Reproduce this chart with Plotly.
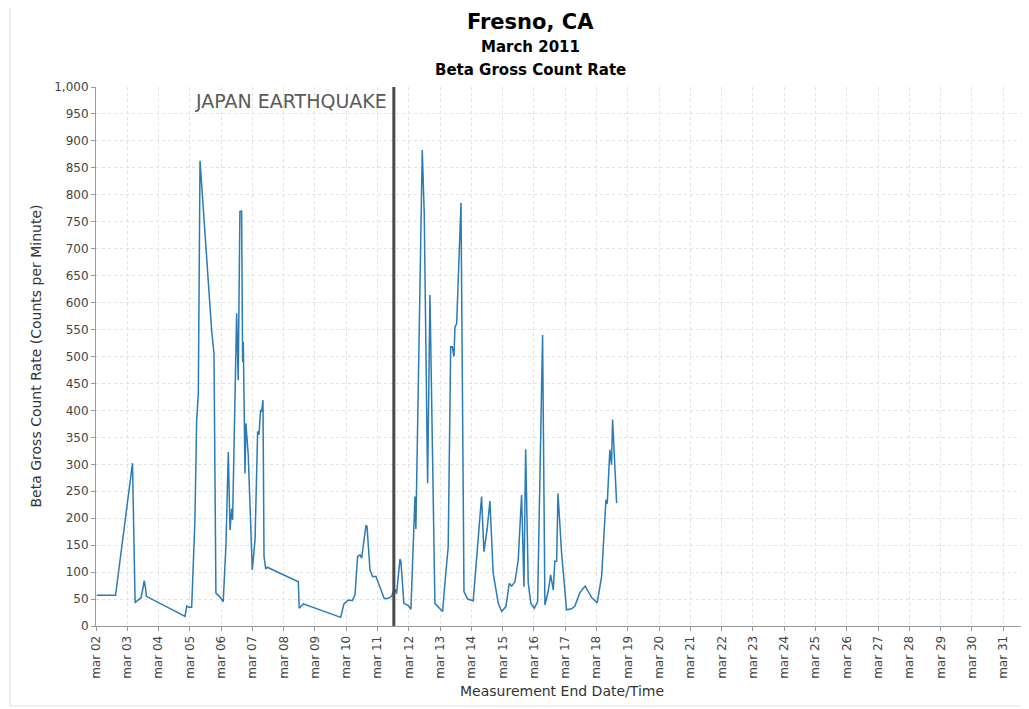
import plotly.graph_objects as go

# ---- data ----
times = [
    "2011-03-02 00:30", "2011-03-02 15:00", "2011-03-03 04:00", "2011-03-03 06:00",
    "2011-03-03 08:12", "2011-03-03 10:30", "2011-03-03 12:00", "2011-03-03 13:00",
    "2011-03-03 14:00", "2011-03-03 14:42", "2011-03-04 20:18", "2011-03-04 21:36",
    "2011-03-04 23:18", "2011-03-05 01:24", "2011-03-05 03:54", "2011-03-05 05:12",
    "2011-03-05 06:30", "2011-03-05 07:48", "2011-03-05 16:42", "2011-03-05 18:30",
    "2011-03-05 20:00", "2011-03-05 22:42", "2011-03-06 01:36", "2011-03-06 03:42",
    "2011-03-06 05:30", "2011-03-06 06:48", "2011-03-06 08:06", "2011-03-06 08:48",
    "2011-03-06 11:54", "2011-03-06 13:06", "2011-03-06 14:24", "2011-03-06 15:42",
    "2011-03-06 16:30", "2011-03-06 17:00", "2011-03-06 18:18", "2011-03-06 19:00",
    "2011-03-06 20:48", "2011-03-06 23:54", "2011-03-07 02:00", "2011-03-07 04:00",
    "2011-03-07 05:00", "2011-03-07 06:18", "2011-03-07 07:06", "2011-03-07 08:06",
    "2011-03-07 08:54", "2011-03-07 10:12", "2011-03-07 11:24", "2011-03-08 11:12",
    "2011-03-08 11:54", "2011-03-08 15:00", "2011-03-09 19:42", "2011-03-09 22:12",
    "2011-03-10 01:30", "2011-03-10 04:36", "2011-03-10 06:42", "2011-03-10 08:42",
    "2011-03-10 10:30", "2011-03-10 11:48", "2011-03-10 15:06", "2011-03-10 15:54",
    "2011-03-10 18:12", "2011-03-10 20:12", "2011-03-10 22:48", "2011-03-11 00:30",
    "2011-03-11 05:06", "2011-03-11 08:00", "2011-03-11 10:48", "2011-03-11 12:00",
    "2011-03-11 13:18", "2011-03-11 14:36", "2011-03-11 17:12", "2011-03-11 17:54",
    "2011-03-11 20:12", "2011-03-11 23:30", "2011-03-12 01:36", "2011-03-12 04:42",
    "2011-03-12 05:24", "2011-03-12 10:18", "2011-03-12 11:48", "2011-03-12 14:24",
    "2011-03-12 16:12", "2011-03-12 20:00", "2011-03-13 01:54", "2011-03-13 03:42",
    "2011-03-13 06:12", "2011-03-13 08:06", "2011-03-13 09:18", "2011-03-13 10:36",
    "2011-03-13 11:24", "2011-03-13 12:42", "2011-03-13 16:00", "2011-03-13 18:18",
    "2011-03-13 21:06", "2011-03-14 01:24", "2011-03-14 04:00", "2011-03-14 07:48",
    "2011-03-14 09:36", "2011-03-14 12:06", "2011-03-14 14:12", "2011-03-14 16:42",
    "2011-03-14 20:36", "2011-03-14 23:12", "2011-03-15 02:30", "2011-03-15 05:00",
    "2011-03-15 06:54", "2011-03-15 09:24", "2011-03-15 11:54", "2011-03-15 14:30",
    "2011-03-15 16:18", "2011-03-15 17:36", "2011-03-15 19:36", "2011-03-15 21:36",
    "2011-03-16 00:12", "2011-03-16 02:48", "2011-03-16 06:36", "2011-03-16 08:24",
    "2011-03-16 10:54", "2011-03-16 12:48", "2011-03-16 14:48", "2011-03-16 16:00",
    "2011-03-16 17:24", "2011-03-16 18:24", "2011-03-16 21:12", "2011-03-17 01:00",
    "2011-03-17 04:54", "2011-03-17 07:24", "2011-03-17 11:12", "2011-03-17 15:18",
    "2011-03-17 17:36", "2011-03-17 20:12", "2011-03-18 00:30", "2011-03-18 03:54",
    "2011-03-18 07:12", "2011-03-18 08:12", "2011-03-18 10:12", "2011-03-18 11:30",
    "2011-03-18 12:18", "2011-03-18 15:24",
]
counts = [
    57, 57, 302, 43, 48, 52, 70, 84, 70, 55, 18, 37,
    35, 35, 197, 380, 432, 863, 549, 506, 61, 55, 45, 150,
    323, 178, 218, 197, 580, 456, 769, 770, 490, 527, 283, 376,
    317, 104, 160, 361, 355, 401, 398, 419, 129, 106, 109, 82,
    33, 41, 16, 41, 48, 47, 58, 129, 132, 126, 186, 185,
    104, 92, 92, 80, 51, 51, 55, 64, 68, 60, 124, 120,
    42, 38, 31, 240, 180, 883, 766, 265, 614, 42, 27, 80,
    147, 518, 518, 500, 555, 561, 785, 64, 50, 47, 124, 240,
    138, 180, 232, 98, 42, 27, 36, 79, 74, 82, 122, 243,
    73, 328, 80, 42, 33, 45, 540, 39, 64, 95, 67, 120,
    120, 246, 135, 30, 32, 37, 62, 74, 64, 53, 43, 92,
    234, 227, 327, 299, 383, 228,
]
day_ticks = ["2011-03-%02d" % d for d in range(2, 32)]
day_labels = ["mar %02d" % d for d in range(2, 32)]
y_ticks = list(range(0, 1001, 50))
earthquake_time = "2011-03-11 12:30"
earthquake_label = "JAPAN EARTHQUAKE"
x_range = ["2011-03-02 00:00", "2011-03-31 19:00"]

# ---- layout geometry (screen pixels; page body adds an 8px offset) ----
OFF = 8
W, H = 1029 - OFF, 709 - OFF
L, R, T, B = 96, 1028, 87, 626
pw, ph = R - L, B - T


def px(x):
    return (x - L) / pw


def py(y):
    return (B - y) / ph


fig = go.Figure()
fig.add_trace(go.Scatter(
    x=times, y=counts, mode="lines",
    line=dict(color="#2b7bb4", width=1.5),
    showlegend=False, hoverinfo="x+y",
))

fig.add_shape(type="line", xref="x", yref="y",
              x0=earthquake_time, x1=earthquake_time, y0=0, y1=1000,
              line=dict(color="#4a4a4a", width=3))

# outer frame
fig.add_shape(type="rect", xref="paper", yref="paper",
              x0=px(10), x1=px(1040), y0=py(706), y1=py(5),
              line=dict(color="#dddddd", width=1), layer="below")

fig.add_annotation(x=earthquake_time, y=py(101), xref="x", yref="paper",
                   text=earthquake_label, showarrow=False,
                   xanchor="right", yanchor="middle", xshift=-5,
                   font=dict(family="DejaVu Sans", size=19, color="#5a5a5a"))

titles = [("Fresno, CA", 21, 22), ("March 2011", 15, 47), ("Beta Gross Count Rate", 15, 70)]
for txt, size, ypix in titles:
    fig.add_annotation(x=px(530), y=py(ypix), xref="paper", yref="paper",
                       text="<b>%s</b>" % txt, showarrow=False,
                       xanchor="center", yanchor="middle",
                       font=dict(family="DejaVu Sans", size=size, color="#000000"))

fig.add_annotation(x=px(35), y=0.5, xref="paper", yref="paper",
                   text="Beta Gross Count Rate (Counts per Minute)", textangle=-90,
                   showarrow=False, xanchor="center", yanchor="middle",
                   font=dict(family="DejaVu Sans", size=14, color="#333333"))
fig.add_annotation(x=0.5, y=py(691), xref="paper", yref="paper",
                   text="Measurement End Date/Time", showarrow=False,
                   xanchor="center", yanchor="middle",
                   font=dict(family="DejaVu Sans", size=14, color="#333333"))

fig.update_layout(
    width=W, height=H,
    margin=dict(l=L - OFF, r=W - (R - OFF), t=T - OFF, b=H - (B - OFF), pad=0),
    paper_bgcolor="white", plot_bgcolor="white",
    font=dict(family="DejaVu Sans", size=12, color="#444444"),
)
fig.update_xaxes(
    type="date", range=x_range,
    tickvals=day_ticks, ticktext=day_labels, tickangle=-90,
    tickfont=dict(family="DejaVu Sans", size=12, color="#444444"),
    showgrid=True, gridcolor="#e2e2e2", griddash="3px,3px", gridwidth=1,
    showline=True, linecolor="#999999", linewidth=1,
    ticks="outside", ticklen=4, tickcolor="#999999",
    zeroline=False,
)
fig.update_yaxes(
    range=[0, 1000], tickvals=y_ticks, tickformat=",d",
    tickfont=dict(family="DejaVu Sans", size=12, color="#444444"),
    showgrid=True, gridcolor="#e2e2e2", griddash="3px,3px", gridwidth=1,
    showline=True, linecolor="#999999", linewidth=1,
    ticks="outside", ticklen=4, tickcolor="#999999",
    zeroline=False,
)

fig.write_html("out.html")
